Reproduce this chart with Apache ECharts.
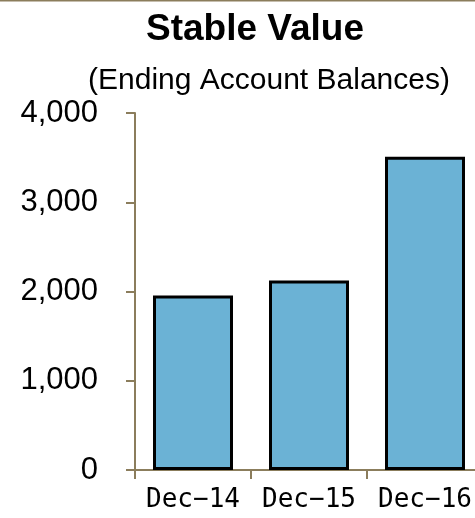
<!DOCTYPE html>
<html>
<head>
<meta charset="utf-8">
<script src="https://cdn.jsdelivr.net/npm/echarts@6/dist/echarts.min.js"></script>
<style>
  html, body { margin: 0; padding: 0; background: #ffffff; }
  #chart { width: 475px; height: 518px; }
</style>
</head>
<body>
<div id="chart"></div>
<script>
// Ending account balances for the stable value fund
const categories = ['Dec\u221214', 'Dec\u221215', 'Dec\u221216'];
const balances = [1955, 2123, 3510];
const yTicks = [0, 1000, 2000, 3000, 4000];

const axisColor = '#8B7D5C';
const chart = echarts.init(document.getElementById('chart'), null, { renderer: 'canvas' });

chart.setOption({
  animation: false,
  backgroundColor: '#ffffff',
  title: [
    {
      text: 'Stable Value',
      left: 250, top: 6, textAlign: 'center',
      textStyle: { fontFamily: 'Liberation Sans', fontWeight: 'bold', fontSize: 37, color: '#000' }
    },
    {
      text: '(Ending Account Balances)',
      left: 264, top: 61, textAlign: 'center',
      textStyle: { fontFamily: 'Liberation Sans', fontWeight: 'normal', fontSize: 30, color: '#000' }
    }
  ],
  graphic: [
    { type: 'rect', shape: { x: 0, y: 0, width: 475, height: 1.5 }, style: { fill: axisColor }, silent: true }
  ],
  grid: { left: 135, top: 113, width: 348, height: 357, containLabel: false, outerBoundsMode: 'none' },
  xAxis: {
    type: 'category',
    data: categories,
    axisLine: { show: true, lineStyle: { color: axisColor, width: 2 } },
    axisTick: { show: true, length: 9, lineStyle: { color: axisColor, width: 2 } },
    axisLabel: {
      interval: 0, hideOverlap: false,
      margin: 17, fontFamily: 'DejaVu Sans Mono', fontSize: 26, color: '#000'
    },
    splitLine: { show: false }
  },
  yAxis: {
    type: 'value',
    min: yTicks[0],
    max: yTicks[yTicks.length - 1],
    interval: yTicks[1] - yTicks[0],
    axisLine: { show: true, lineStyle: { color: axisColor, width: 2 } },
    axisTick: { show: true, length: 9, lineStyle: { color: axisColor, width: 2 } },
    axisLabel: {
      margin: 37,
      fontFamily: 'Liberation Sans', fontSize: 31, color: '#000',
      formatter: v => v.toLocaleString('en-US')
    },
    splitLine: { show: false }
  },
  series: [{
    type: 'bar',
    data: balances,
    barWidth: 80,
    itemStyle: { color: '#6BB2D5', borderColor: '#000', borderWidth: 3 }
  }]
});
</script>
</body>
</html>
